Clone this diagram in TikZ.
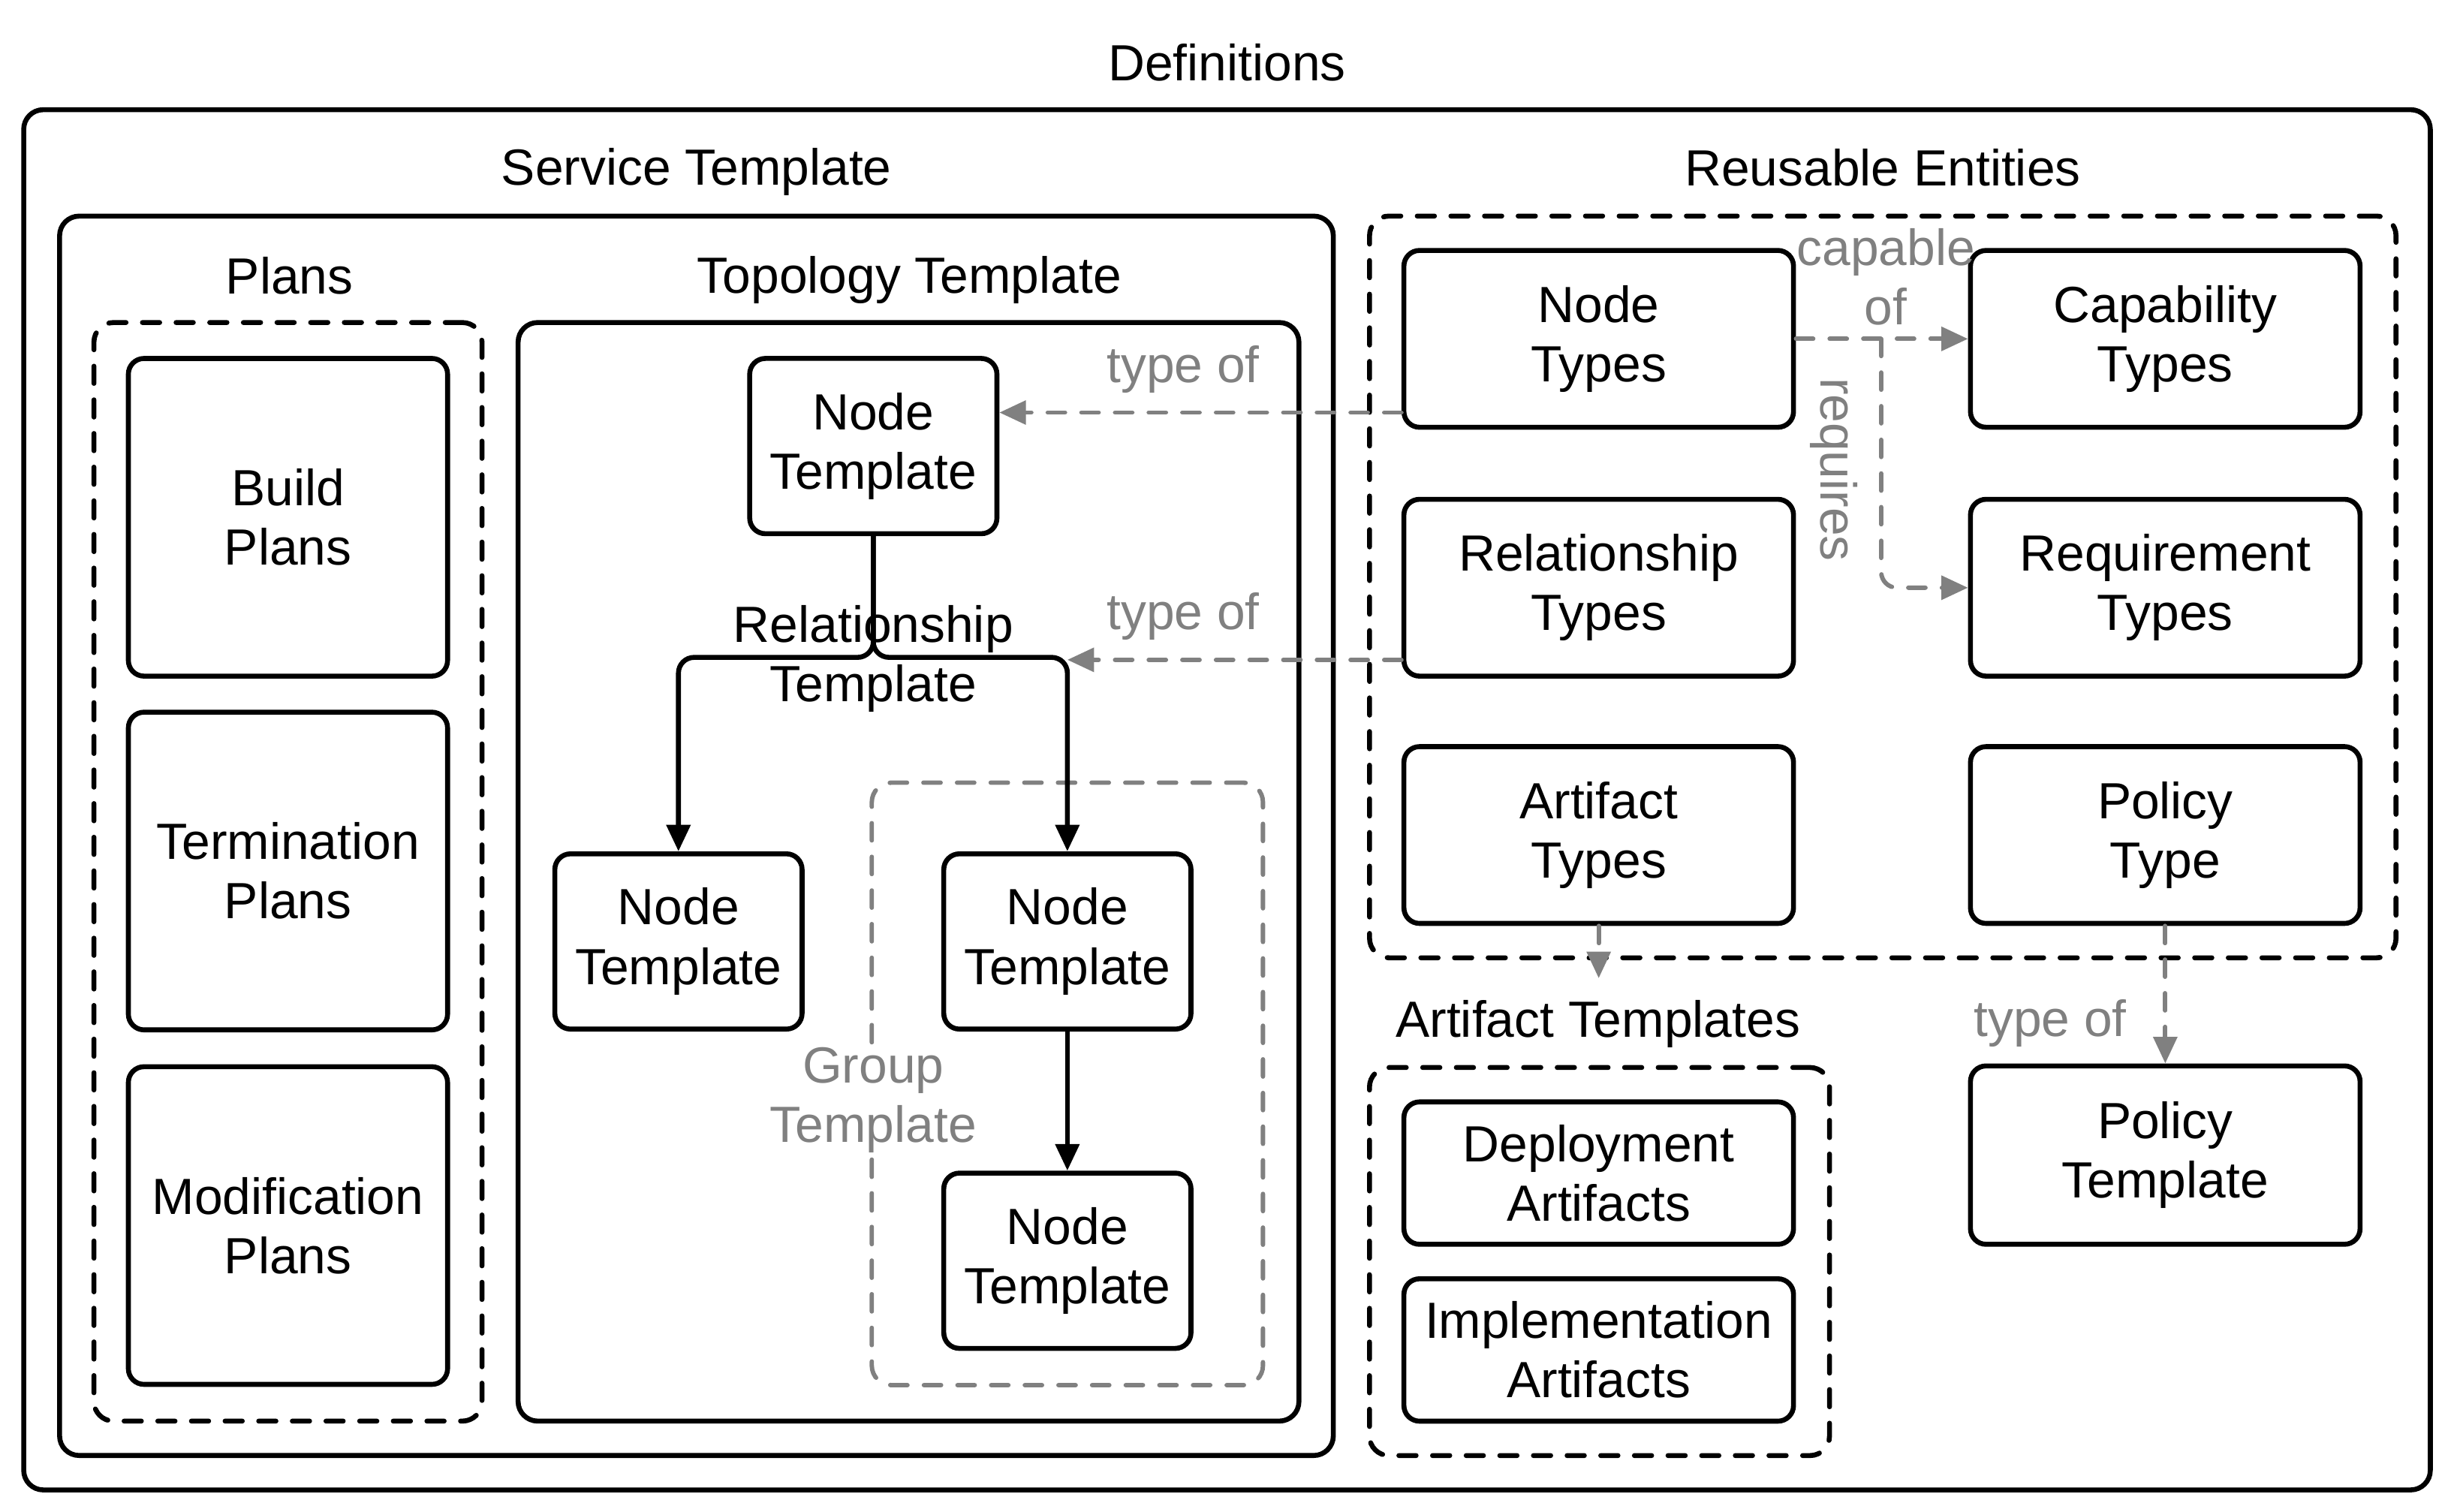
\documentclass[tikz,border=0pt]{standalone}
\usepackage{fontspec}
\setmainfont{Liberation Sans}
\usetikzlibrary{arrows.meta}
\definecolor{linkgray}{gray}{0.5}

\begin{document}
\begin{tikzpicture}[x=0.02cm, y=-0.02cm, font=\fontsize{18.5}{21.6}\selectfont]
        \tikzset{box/.style={draw, line width=1.8pt, rounded corners=0.2cm,
            align=center, inner sep=0pt}}
        \tikzset{frame/.style={draw, line width=1.8pt, rounded corners=0.25cm}}
        \tikzset{dashframe/.style={frame, line cap=round,
            dash pattern=on 0.22cm off 0.21cm}}
        \tikzset{groupframe/.style={dashframe, draw=linkgray, line width=1.6pt}}
        \tikzset{rel/.style={line width=1.8pt,
            -{Triangle[length=0.34cm, width=0.3cm]}}}
        \tikzset{typeof/.style={draw=linkgray, line width=1.6pt, line cap=round,
            dash pattern=on 0.22cm off 0.21cm,
            -{Triangle[length=0.34cm, width=0.3cm, fill=linkgray]}}}
        \tikzset{graylabel/.style={text=linkgray, align=center}}

        \useasboundingbox (0,0) rectangle (1568,966);

        % outer frames
        \node[frame, minimum width=30.76cm, minimum height=17.64cm] (defs) at (784,511) {};
        \node (defslabel) at (784,40) {Definitions};
        \node[frame, minimum width=16.28cm, minimum height=15.84cm] (service) at (445,534) {};
        \node (servicelabel) at (445,110) {Service Template};
        \node[dashframe, minimum width=13.12cm, minimum height=9.48cm] (reusable) at (1203,375) {};
        \node (reusablelabel) at (1203,107) {Reusable Entities};

        % plans
        \node[dashframe, minimum width=4.96cm, minimum height=14.04cm] (plans) at (184,557) {};
        \node (planslabel) at (185,176) {Plans};
        \begin{scope}[box/.append style={minimum width=4.08cm, minimum height=4.06cm}]
          \node[box] (build) at (184,330.5) {Build\\Plans};
          \node[box] (termination) at (184,556.5) {Termination\\Plans};
          \node[box] (modification) at (184,783) {Modification\\Plans};
        \end{scope}

        % topology
        \node[frame, minimum width=9.98cm, minimum height=14.04cm] (topology) at (580.5,557) {};
        \node (topologylabel) at (581,179) {Topology Template};
        \node[groupframe, minimum width=5cm, minimum height=7.7cm] (group) at (682,692.5) {};
        \node[graylabel, fill=white, inner sep=1pt] (grouplabel) at (558,703) {Group\\Template};
        \begin{scope}[box/.append style={minimum width=3.16cm, minimum height=2.24cm}]
          \node[box] (nt1) at (558,285) {Node\\Template};
          \node[box] (nt2) at (433.5,601.5) {Node\\Template};
          \node[box] (nt3) at (682,601.5) {Node\\Template};
          \node[box] (nt4) at (682,805.5) {Node\\Template};
        \end{scope}

        \coordinate (relfork) at (558,420);
        \draw[rel, rounded corners=0.2cm] (nt1.south) -- (relfork) -| (nt2.north);
        \draw[rel, rounded corners=0.2cm] (nt1.south) -- (relfork) -| (nt3.north);
        \draw[rel] (nt3.south) -- (nt4.north);
        \node[align=center] (rellabel) at (558,421) {Relationship\\Template};

        % reusable entities
        \begin{scope}[box/.append style={minimum width=4.98cm, minimum height=2.26cm}]
          \node[box] (nodetypes) at (1021.5,216.5) {Node\\Types};
          \node[box] (captypes) at (1383.5,216.5) {Capability\\Types};
          \node[box] (reltypes) at (1021.5,375.5) {Relationship\\Types};
          \node[box] (reqtypes) at (1383.5,375.5) {Requirement\\Types};
          \node[box] (arttypes) at (1021.5,533.5) {Artifact\\Types};
          \node[box] (poltype) at (1383.5,533.5) {Policy\\Type};
          \node[box, minimum height=2.28cm] (poltmpl) at (1383.5,738) {Policy\\Template};
        \end{scope}

        % artifact templates
        \node[dashframe, minimum width=5.88cm, minimum height=4.96cm] (artifacts) at (1022,806) {};
        \node (artifactslabel) at (1021,654) {Artifact Templates};
        \begin{scope}[box/.append style={minimum width=4.98cm, minimum height=1.82cm}]
          \node[box] (deploy) at (1021.5,749.5) {Deployment\\Artifacts};
          \node[box] (impl) at (1021.5,862.5) {Implementation\\Artifacts};
        \end{scope}

        % type links
        \coordinate (ntsrc) at ([yshift=0.22cm]nodetypes.south west);
        \coordinate (rtsrc) at ([yshift=0.24cm]reltypes.south west);
        \draw[typeof] (ntsrc) -- (ntsrc -| nt1.east);
        \draw[typeof] (rtsrc) -- (rtsrc -| nt3.north);
        \node[graylabel] (typeof1) at (756,236) {type of};
        \node[graylabel] (typeof2) at (756,394) {type of};

        \coordinate (capfork) at (1202,216.5);
        \draw[typeof] (nodetypes.east) -- (captypes.west);
        \draw[typeof, rounded corners=0.2cm] (capfork) |- (reqtypes.west);
        \node[graylabel] (caplabel) at (1205,177) {capable\\of};
        \node[graylabel, rotate=-90] (reqlabel) at (1172,300) {requires};

        \coordinate (arttip) at (1021.5,625);
        \draw[typeof] (arttypes.south) -- (arttip);
        \draw[typeof] (poltype.south) -- (poltmpl.north);
        \node[graylabel] (typeof3) at (1310,654) {type of};
      \end{tikzpicture}
\end{document}
